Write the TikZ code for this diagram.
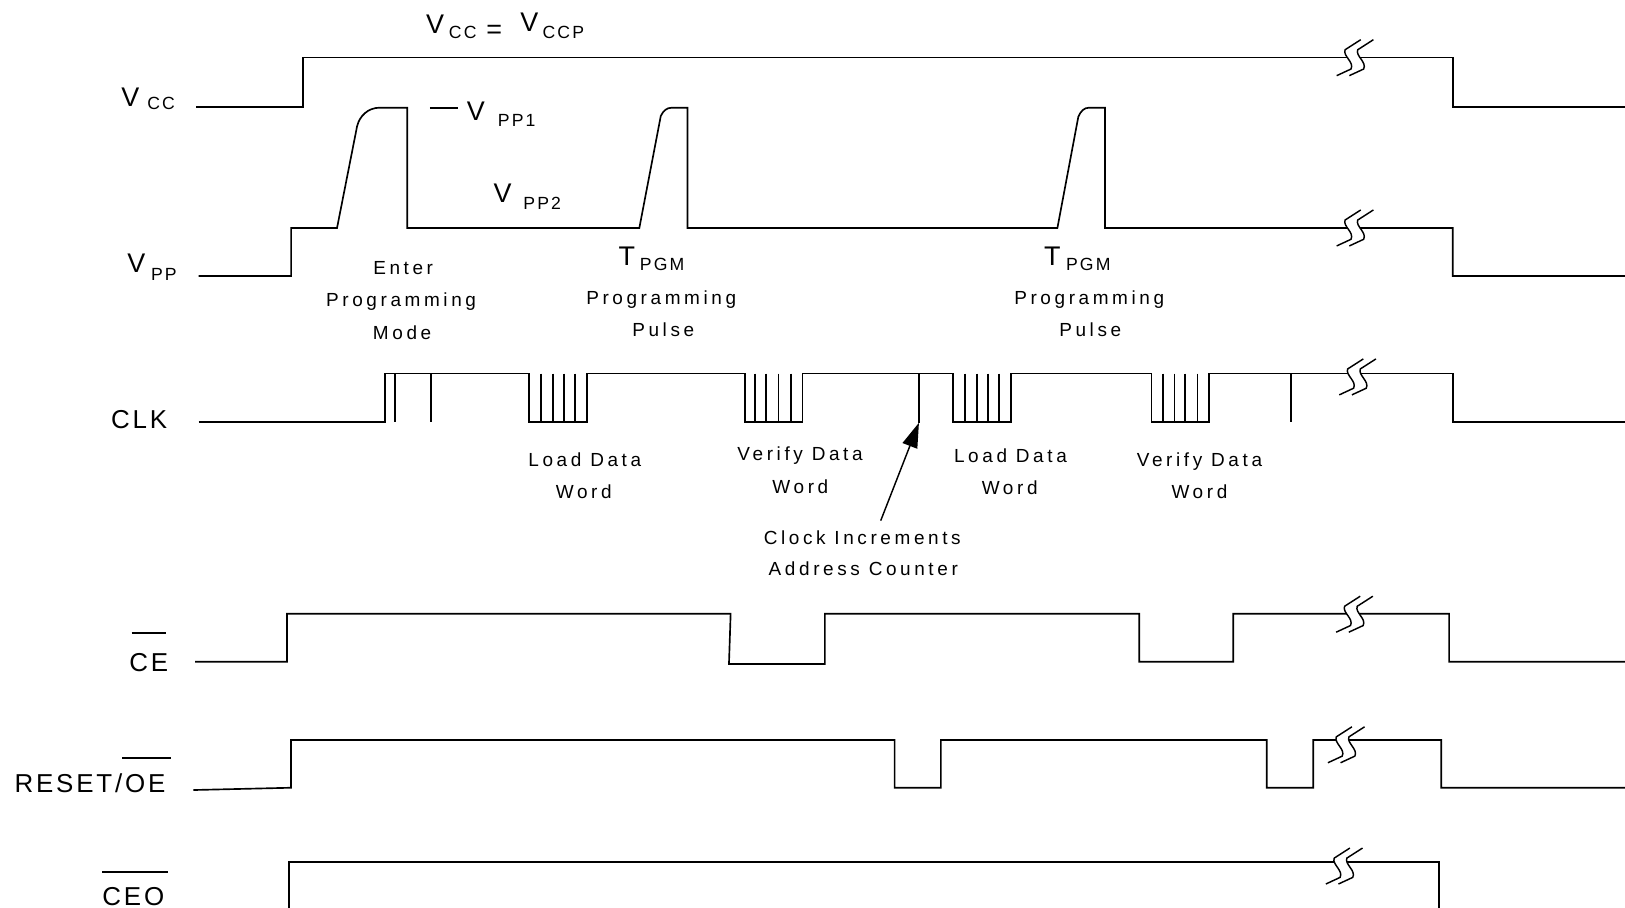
\documentclass[tikz,border=0pt]{standalone}
\usepackage{fontspec}
\newfontfamily\sigfont{Liberation Sans}[LetterSpace=11]
\newfontfamily\subfont{Liberation Sans}[LetterSpace=12]
\newfontfamily\notefont{Liberation Sans}[LetterSpace=19]
\usetikzlibrary{arrows.meta}
\tikzset{
  wave/.style={line width=1.6pt, line join=miter},
  tick/.style={line width=1.6pt},
  big/.style={font=\sigfont\fontsize{26}{30}\selectfont, inner sep=0pt, anchor=base west},
  subs/.style={font=\subfont\fontsize{17}{20}\selectfont, inner sep=0pt, anchor=base west},
  note/.style={font=\notefont\fontsize{18.3}{22}\selectfont, inner sep=0pt, anchor=base},
  siglbl/.style={font=\sigfont\fontsize{25}{30}\selectfont, inner sep=0pt, anchor=base west},
  brk/.pic={
    \fill[white] (-3.9,10.6) .. controls (-0.5,4) and (-12,-2) .. (-9.6,-8) -- (2.6,-8) .. controls (0.2,-2) and (11.7,4) .. (8.3,10.6) -- cycle;
    \foreach \d in {0,12.2}{
      \begin{scope}[shift={(\d,0)}]
        \draw[line width=1.4pt] (-17.7,17) -- (-3.9,10.6) .. controls (-0.5,4) and (-12,-2) .. (-9.6,-8) -- (5.5,-17.7);
      \end{scope}
    }
  }
}
\begin{document}
\begin{tikzpicture}[x=1pt,y=-1pt]
\useasboundingbox (0,0) rectangle (1568,876);

% ---------- Vcc ----------
\draw[wave] (189.5,103) -- (292.1,103) -- (292.1,55.6) -- (1401.8,55.6) -- (1401.8,103) -- (1568,103);
\pic at (1307.5,56) {brk};
\node[big] (vcc) at (117,103) {V};
\node[subs] (vccs) at (142,105.5) {CC};
\node[big] (vt1) at (411,32.2) {V};
\node[subs] (vt1s) at (433,37) {CC};
\node[big] (veq) at (469,37) {=};
\node[big] (vt2) at (502,30.6) {V};
\node[subs] (vt2s) at (523.4,37.6) {CCP};

% ---------- Vpp ----------
\draw[wave] (191.7,266.3) -- (280.9,266.3) -- (280.9,220) -- (325.2,220) -- (344.6,121.6)
  .. controls (347,112) and (355,104) .. (366.2,103.9) -- (392.9,103.9) -- (392.9,220)
  -- (616.9,220) -- (637.6,111.9) .. controls (640,107) and (643,104) .. (648.3,103.9)
  -- (663.3,103.9) -- (663.3,220) -- (1020.3,220) -- (1040.5,112.6)
  .. controls (1043,107) and (1046,104) .. (1050.8,103.9) -- (1066.3,103.9) -- (1066.3,220)
  -- (1401.8,220) -- (1401.8,266.3) -- (1568,266.3);
\pic at (1307.5,220.3) {brk};
\node[big] (vpp) at (122.8,263.1) {V};
\node[subs] (vpps) at (145.6,270.8) {PP};
\draw[tick] (414.9,103.9) -- (441.6,103.9);
\node[big] (vpp1) at (450.2,115.8) {V};
\node[subs] (vpp1s) at (480.3,122.2) {PP1};
\node[big] (vpp2) at (476,195.6) {V};
\node[subs] (vpp2s) at (504.9,201.7) {PP2};
\node[big] (tpgm1) at (596.6,255.7) {T};
\node[subs] (tpgm1s) at (617.3,261.2) {PGM};
\node[big] (tpgm2) at (1007.3,255.7) {T};
\node[subs] (tpgm2s) at (1028.5,261.2) {PGM};
\node[note] (enter1) at (389,265) {Enter};
\node[note] (enter2) at (387,296) {Programming};
\node[note] (enter3) at (388,328) {Mode};
\node[note] (pp1a) at (638,294) {Programming};
\node[note] (pp1b) at (640,325) {Pulse};
\node[note] (pp2a) at (1051,294) {Programming};
\node[note] (pp2b) at (1052,325) {Pulse};

% ---------- CLK ----------
\draw[wave] (191.7,407) -- (371.3,407) -- (371.3,360.4) -- (510.5,360.4) -- (510.5,407) -- (566.5,407)
  -- (566.5,360.4) -- (718.7,360.4) -- (718.7,407) -- (774.4,407) -- (774.4,360.4) -- (919.5,360.4)
  -- (919.5,407) -- (975.3,407) -- (975.3,360.4) -- (1111,360.4) -- (1111,407) -- (1166.5,407)
  -- (1166.5,360.4) -- (1401.7,360.4) -- (1401.7,407) -- (1568,407);
\foreach \x in {381.2,415.7,522,533.3,544,554.8,728.3,739.4,751.2,763,931.3,942.4,953.1,964.2,1122.3,1133.3,1143.7,1155.5,1245.8}
  \draw[tick] (\x,360.4) -- (\x,407);
\coordinate (inctop) at (886.7,360.4);
\coordinate (incbot) at (886.7,407.9);
\draw[tick] (inctop) -- (incbot);
\pic at (1310,364) {brk};
\node[siglbl] (clk) at (107,413.3) {CLK};
\node[note] (ld1a) at (564.3,449.7) {Load Data};
\node[note] (ld1b) at (563.3,481) {Word};
\node[note] (vd1a) at (772,444.5) {Verify Data};
\node[note] (vd1b) at (772.3,476) {Word};
\node[note] (ld2a) at (975,446.5) {Load Data};
\node[note] (ld2b) at (974.3,477) {Word};
\node[note] (vd2a) at (1157.4,450.3) {Verify Data};
\node[note] (vd2b) at (1157.4,481) {Word};
\node[note] (cia) at (832,525) {Clock Increments};
\node[note] (cib) at (833,555) {Address Counter};
\coordinate (arrtail) at (849.8,502.4);
\draw[line width=1.4pt, -{Triangle[length=24pt,width=15pt]}] (arrtail) -- (incbot);

% ---------- CE ----------
\draw[wave] (188.3,638.5) -- (276.9,638.5) -- (276.9,592.2) -- (705,592.2) -- (703.4,640.7) -- (795.9,640.7)
  -- (795.9,592.2) -- (1099.2,592.2) -- (1099.2,638.5) -- (1189.9,638.5) -- (1189.9,592.2)
  -- (1398.3,592.2) -- (1398.3,638.5) -- (1568,638.5);
\pic at (1307,593) {brk};
\node[siglbl] (ce) at (124.6,648) {CE};
\draw[tick] (127,611) -- (160,611);

% ---------- RESET/OE ----------
\draw[wave] (186.6,762.3) -- (280.8,760.1) -- (280.8,714.1) -- (863.2,714.1) -- (863.2,760.1) -- (907.9,760.1)
  -- (907.9,714.1) -- (1222.3,714.1) -- (1222.3,760.1) -- (1267.1,760.1) -- (1267.1,714.1)
  -- (1390.6,714.1) -- (1390.6,760.1) -- (1568,760.1);
\pic at (1299,719) {brk};
\node[siglbl] (reset) at (13.8,764.6) {RESET/OE};
\draw[tick] (118,731.2) -- (165,731.2);

% ---------- CEO ----------
\draw[wave] (278.6,880) -- (278.6,831.8) -- (1388.8,831.8) -- (1388.8,880);
\pic at (1297,836) {brk};
\node[siglbl] (ceo) at (98.6,873.3) {CEO};
\draw[tick] (98.6,841.1) -- (162.3,841.1);
\end{tikzpicture}
\end{document}
